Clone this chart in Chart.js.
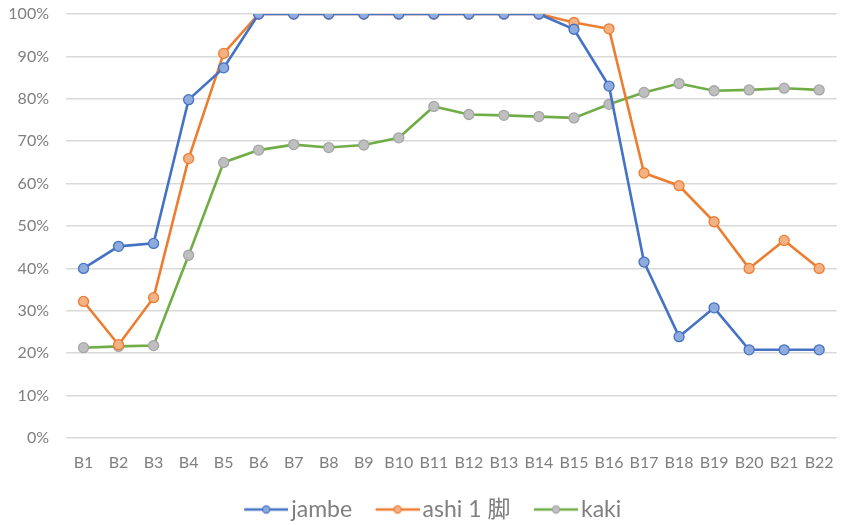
<!DOCTYPE html>
<html>
<head>
<meta charset="utf-8">
<script src="https://cdn.jsdelivr.net/npm/chart.js@4/dist/chart.umd.min.js"></script>
<style>
  html, body { margin: 0; padding: 0; background: #fff; }
  #wrap { width: 843px; height: 525px; }
</style>
</head>
<body>
<div id="wrap"><canvas id="c" width="843" height="525"></canvas></div>
<script>
// Categories along the x axis
const categories = ['B1','B2','B3','B4','B5','B6','B7','B8','B9','B10','B11','B12','B13','B14','B15','B16','B17','B18','B19','B20','B21','B22'];

// Series values (fraction of 1)
const jambe = [0.400, 0.452, 0.459, 0.798, 0.873, 1.000, 1.000, 1.000, 1.000, 1.000, 1.000, 1.000, 1.000, 1.000, 0.964, 0.830, 0.415, 0.239, 0.307, 0.208, 0.208, 0.208];
const ashi = [0.322, 0.220, 0.331, 0.659, 0.907, 1.000, 1.000, 1.000, 1.000, 1.000, 1.000, 1.000, 1.000, 1.000, 0.980, 0.965, 0.625, 0.595, 0.510, 0.400, 0.466, 0.400];
const kaki = [0.213, 0.216, 0.218, 0.431, 0.650, 0.679, 0.692, 0.685, 0.691, 0.708, 0.782, 0.763, 0.761, 0.758, 0.755, 0.787, 0.815, 0.836, 0.819, 0.821, 0.825, 0.821];

// Series names
const seriesNames = ['jambe', 'ashi 1 脚', 'kaki'];

// Y tick values
const yTicks = [0, 0.1, 0.2, 0.3, 0.4, 0.5, 0.6, 0.7, 0.8, 0.9, 1.0];

const FONT = 'Lato, "Noto Sans CJK JP", sans-serif';
const TEXT = '#7f7f7f';

const styles = [
  { line: '#4472c4', fill: '#8faadc', ring: '#4472c4' },
  { line: '#ed7d31', fill: '#f4b183', ring: '#ed7d31' },
  { line: '#70ad47', fill: '#bfbfbf', ring: '#a5a5a5' }
];

// Legend swatch: short line with a marker in the middle, blank lead-in on the left
const SW_W = 66, SW_LINE = 44;
function swatch(s) {
  const cv = document.createElement('canvas');
  cv.width = SW_W; cv.height = 12;
  const g = cv.getContext('2d');
  const x0 = SW_W - SW_LINE;
  g.strokeStyle = s.line; g.lineWidth = 2.5;
  g.beginPath(); g.moveTo(x0, 6); g.lineTo(SW_W, 6); g.stroke();
  g.beginPath(); g.arc(x0 + SW_LINE / 2, 6, 3.6, 0, Math.PI * 2);
  g.fillStyle = s.fill; g.fill();
  g.lineWidth = 1.2; g.strokeStyle = s.ring; g.stroke();
  return cv;
}

const seriesData = [jambe, ashi, kaki];
const datasets = seriesData.map((d, i) => ({
  label: seriesNames[i],
  data: d,
  borderColor: styles[i].line,
  borderWidth: 2.6,
  pointRadius: 5,
  pointHoverRadius: 5,
  pointBackgroundColor: styles[i].fill,
  pointBorderColor: styles[i].ring,
  pointBorderWidth: 1.3,
  tension: 0,
  fill: false
}));

new Chart(document.getElementById('c'), {
  type: 'line',
  data: { labels: categories, datasets },
  options: {
    responsive: false,
    animation: false,
    layout: { padding: { top: 14, right: -9, left: 0, bottom: -6 } },
    plugins: {
      tooltip: { enabled: false },
      legend: {
        position: 'bottom',
        labels: {
          usePointStyle: true,
          pointStyleWidth: 49,
          color: TEXT,
          font: { family: FONT, size: 23 },
          padding: 10,
          boxHeight: 12,
          generateLabels(chart) {
            return chart.data.datasets.map((ds, i) => ({
              text: ds.label,
              pointStyle: swatch(styles[i]),
              fillStyle: styles[i].line,
              strokeStyle: styles[i].line,
              lineWidth: 0,
              fontColor: TEXT,
              hidden: false,
              datasetIndex: i
            }));
          }
        }
      }
    },
    scales: {
      x: {
        offset: true,
        grid: { display: false, drawTicks: false },
        border: { display: false },
        ticks: { color: TEXT, font: { family: FONT, size: 16 }, padding: 15, maxRotation: 0, autoSkip: false },
        afterFit(axis) { axis.paddingLeft = 0; axis.paddingRight = 0; axis.height = 50; }
      },
      y: {
        min: 0,
        max: 1,
        afterBuildTicks(axis) { axis.ticks = yTicks.map(v => ({ value: v })); },
        grid: { color: '#d9d9d9', lineWidth: 1.5, drawTicks: false },
        border: { display: false },
        ticks: {
          color: TEXT,
          font: { family: FONT, size: 16 },
          padding: 17,
          callback: v => Math.round(v * 100) + '%'
        },
        afterFit(axis) { axis.width = 66; axis.paddingTop = 0; axis.paddingBottom = 0; }
      }
    }
  }
});
</script>
</body>
</html>
